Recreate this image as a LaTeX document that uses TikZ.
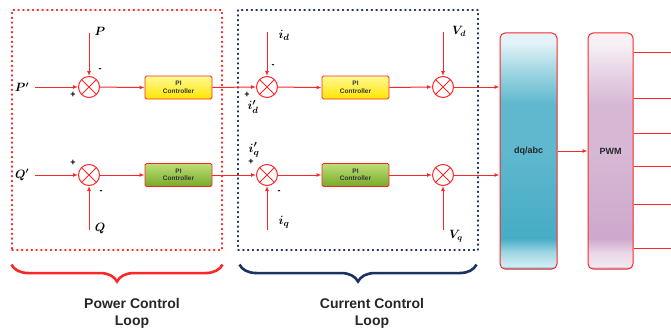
\documentclass[tikz,border=0pt]{standalone}
\usepackage{amsmath,amssymb,bm}
\usepackage{fontspec}
\setmainfont{Liberation Sans}
\usetikzlibrary{positioning,arrows.meta,decorations.pathreplacing}

\definecolor{sigred}{RGB}{250,40,40}
\definecolor{loopnavy}{RGB}{28,48,100}
\definecolor{piyellowA}{RGB}{255,250,150}
\definecolor{piyellowB}{RGB}{255,228,0}
\definecolor{pigreenA}{RGB}{190,222,120}
\definecolor{pigreenB}{RGB}{118,170,40}
% dq/abc block colours
\definecolor{dqA}{RGB}{55,150,175}
\definecolor{dqB}{RGB}{210,237,243}
\definecolor{dqC}{RGB}{70,172,197}
\definecolor{dqD}{RGB}{95,184,206}
\definecolor{dqE}{RGB}{160,214,227}
\definecolor{dqF}{RGB}{228,243,247}
% PWM block colours
\definecolor{pwA}{RGB}{170,135,170}
\definecolor{pwB}{RGB}{242,232,240}
\definecolor{pwC}{RGB}{206,168,205}
\definecolor{pwD}{RGB}{214,184,212}
\definecolor{pwE}{RGB}{232,214,230}
\definecolor{pwF}{RGB}{247,241,246}
\pgfdeclareverticalshading{dqabcshade}{100bp}{color(0bp)=(dqA); color(25bp)=(dqA);
  color(25.6bp)=(dqB); color(28.5bp)=(dqE); color(31.5bp)=(dqC); color(50bp)=(dqD);
  color(60bp)=(dqD); color(67bp)=(dqE); color(73bp)=(dqF); color(75bp)=(dqF); color(100bp)=(dqF)}
\pgfdeclareverticalshading{pwmshade}{100bp}{color(0bp)=(pwA); color(25bp)=(pwA);
  color(25.6bp)=(pwB); color(28.5bp)=(pwE); color(31.5bp)=(pwC); color(50bp)=(pwD);
  color(60bp)=(pwD); color(67bp)=(pwE); color(73bp)=(pwF); color(75bp)=(pwF); color(100bp)=(pwF)}

\tikzset{
  sig/.style={draw=sigred,line width=1pt},
  sumjn/.style={circle,draw=sigred,line width=1pt,fill=white,minimum size=21pt,inner sep=0pt,
    path picture={\draw[sigred,line width=1pt]
      (path picture bounding box.south west) -- (path picture bounding box.north east)
      (path picture bounding box.north west) -- (path picture bounding box.south east);}},
  pibox/.style={draw=sigred,line width=0.9pt,rounded corners=1.5pt,minimum width=67pt,
    minimum height=23pt,inner sep=0pt,align=center,text=black!80,
    font=\fontsize{6.5}{7.5}\selectfont\bfseries},
  piyellow/.style={pibox,top color=piyellowA,bottom color=piyellowB},
  pigreen/.style={pibox,top color=pigreenA,bottom color=pigreenB},
  bigbox/.style={draw=sigred,line width=1pt,rounded corners=5pt,minimum height=236pt,
    inner sep=0pt,text=black!85,font=\fontsize{9}{11}\selectfont\bfseries},
  siglabel/.style={inner sep=0pt,font=\fontsize{12}{14}\selectfont},
  sgn/.style={inner sep=0pt,font=\fontsize{9}{10}\selectfont\bfseries},
  loopframe/.style={dash pattern=on 1.2pt off 3.6pt,line cap=round,line width=1.1pt,
    inner sep=0pt,minimum width=#1,minimum height=240pt},
  loopbrace/.style={line width=2.6pt,decorate,decoration={brace,mirror,amplitude=17pt,aspect=0.5}},
  looplabel/.style={align=center,inner sep=0pt,text=black!85,font=\fontsize{14}{17}\selectfont\bfseries}
}

\begin{document}
\begin{tikzpicture}[x=1pt,y=-1pt,>={Latex[length=5pt,width=4pt]}]
\useasboundingbox (0,0) rectangle (671,329);
% ---- loop frames ----
\node[loopframe=210pt,draw=sigred] (pwrloop) at (117,130) {};
\node[loopframe=240pt,draw=loopnavy] (curloop) at (358,130) {};
% ---- summing junctions ----
\node[sumjn] (sumP) at (89,87) {};
\node[sumjn] (sumQ) at (89,175) {};
\node[sumjn] (sumId) at (267,87) {};
\node[sumjn] (sumIq) at (267,175) {};
\node[sumjn] (sumVd) at (443,87) {};
\node[sumjn] (sumVq) at (443,175) {};
% ---- PI controllers ----
\node[piyellow] (piP) at (178.5,87.5) {PI\\Controller};
\node[pigreen] (piQ) at (178.5,175) {PI\\Controller};
\node[piyellow] (piId) at (355.5,87.5) {PI\\Controller};
\node[pigreen] (piIq) at (355.5,175) {PI\\Controller};
% ---- dq/abc and PWM ----
\node[bigbox,minimum width=57pt,shading=dqabcshade] (dqabc) at (528.5,151) {dq/abc};
\node[bigbox,minimum width=45pt,shading=pwmshade] (pwm) at (610.5,151) {PWM};
% ---- inputs ----
\coordinate (inPr) at (35,87);
\coordinate (inQr) at (35,175);
\coordinate (inP) at (89,33);
\coordinate (inQ) at (89,230);
\coordinate (inId) at (267,32);
\coordinate (inIq) at (267,230);
\coordinate (inVd) at (443,32);
\coordinate (inVq) at (443,230);
\node[siglabel] (lblPr) at (22,87) {$\bm{P'}$};
\node[siglabel] (lblQr) at (22,175) {$\bm{Q'}$};
\node[siglabel] (lblP) at (100,31) {$\bm{P}$};
\node[siglabel] (lblQ) at (100,229) {$\bm{Q}$};
\node[siglabel,font=\fontsize{13}{15}\selectfont] (lblId) at (284,35) {$\bm{i_d}$};
\node[siglabel,font=\fontsize{13}{15}\selectfont] (lblIq) at (284,222) {$\bm{i_q}$};
\node[siglabel,font=\fontsize{13}{15}\selectfont] (lblIdr) at (253,107) {$\bm{i'_d}$};
\node[siglabel,font=\fontsize{13}{15}\selectfont] (lblIqr) at (254,150) {$\bm{i'_q}$};
\node[siglabel] (lblVd) at (459,31) {$\bm{V_d}$};
\node[siglabel] (lblVq) at (456,236) {$\bm{V_q}$};
% ---- signs ----
\node[sgn] (sgnP1) at (73,95) {+};
\node[sgn] (sgnP2) at (100,70) {-};
\node[sgn] (sgnQ1) at (73,163) {+};
\node[sgn] (sgnQ2) at (101,192) {-};
\node[sgn] (sgnId1) at (247,95) {+};
\node[sgn] (sgnId2) at (273,66) {-};
\node[sgn] (sgnIq1) at (251,162) {+};
\node[sgn] (sgnIq2) at (279,192) {-};
% ---- signal paths ----
\draw[sig,->] (inPr) -- (sumP.west);
\draw[sig,->] (inQr) -- (sumQ.west);
\draw[sig,->] (inP) -- (sumP.north);
\draw[sig,->] (inQ) -- (sumQ.south);
\draw[sig,->] (sumP) -- (piP.west);
\draw[sig,->] (sumQ) -- (piQ.west);
\draw[sig,->] (piP.east) -- (sumId.west);
\draw[sig,->] (piQ.east) -- (sumIq.west);
\draw[sig,->] (inId) -- (sumId.north);
\draw[sig,->] (inIq) -- (sumIq.south);
\draw[sig,->] (sumId) -- (piId.west);
\draw[sig,->] (sumIq) -- (piIq.west);
\draw[sig,->] (piId.east) -- (sumVd.west);
\draw[sig,->] (piIq.east) -- (sumVq.west);
\draw[sig,->] (inVd) -- (sumVd.north);
\draw[sig,->] (inVq) -- (sumVq.south);
\draw[sig,->] (sumVd.east) -- (sumVd.east -| dqabc.west);
\draw[sig,->] (sumVq.east) -- (sumVq.east -| dqabc.west);
\draw[sig,->] (dqabc.east) -- (pwm.west);
\foreach \y [count=\k] in {53,98,133,166,204,248} {
  \coordinate (out\k) at (671,\y);
  \draw[sig] (out\k -| pwm.east) -- (out\k);
}
% ---- braces and loop names ----
\draw[loopbrace,sigred] ([yshift=-14pt]pwrloop.south west) -- ([yshift=-14pt]pwrloop.south east);
\draw[loopbrace,loopnavy] ([yshift=-14pt,xshift=2pt]curloop.south west) -- ([yshift=-14pt,xshift=-2pt]curloop.south east);
\node[looplabel] (pwrname) at (132,313) {Power Control\\Loop};
\node[looplabel] (curname) at (372,313) {Current Control\\Loop};
\end{tikzpicture}
\end{document}
